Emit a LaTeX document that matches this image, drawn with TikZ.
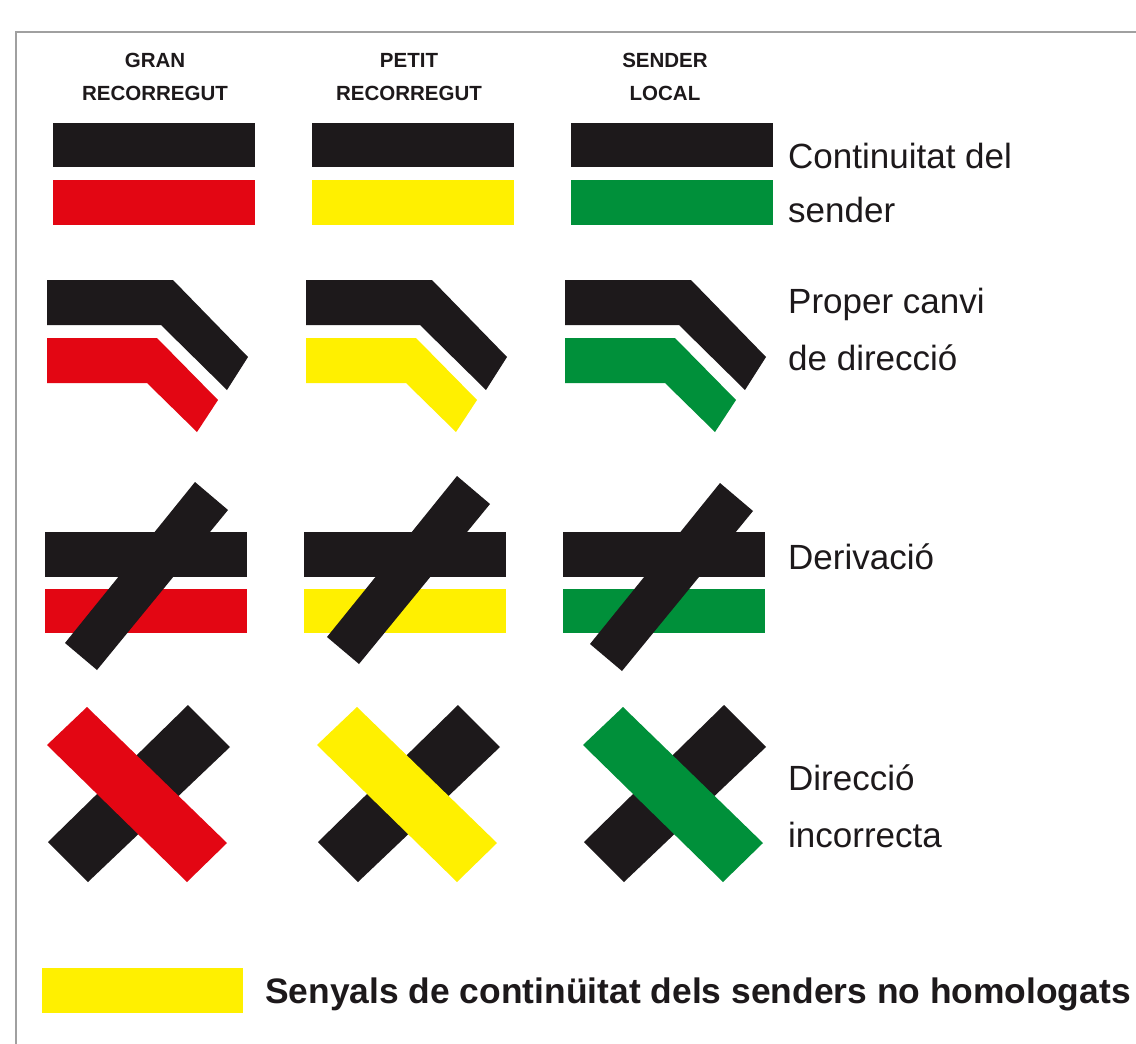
\documentclass[tikz,border=0pt]{standalone}
\usepackage{fontspec}
\setmainfont{Liberation Sans}
\usepackage{xcolor}
\usepackage{tikz}
\definecolor{sblack}{HTML}{1D191B}
\definecolor{sred}{HTML}{E30613}
\definecolor{syellow}{HTML}{FFF000}
\definecolor{sgreen}{HTML}{00903A}
\definecolor{frameline}{HTML}{A0A0A0}

\begin{document}
\begin{tikzpicture}[x=1pt,y=-1pt,
  hdr/.style={font=\fontsize{20.5}{24}\selectfont\bfseries,text=sblack,anchor=base,inner sep=0pt},
  lbl/.style={font=\fontsize{35}{42}\selectfont,text=sblack,anchor=base west,inner sep=0pt},
  leg/.style={font=\fontsize{35.4}{42}\selectfont\bfseries,text=sblack,anchor=base west,inner sep=0pt},
  frame/.style={draw=frameline,line width=2.5pt}]
  \useasboundingbox[fill=white] (0,0) rectangle (1136,1044);
  \draw[frame] (16,1044) -- (16,32) -- (1136,32);
  % column headers
  \node[hdr] (gran)      at (155,67)  {GRAN};
  \node[hdr] (granrec)   at (155,100) {RECORREGUT};
  \node[hdr] (petit)     at (409,67)  {PETIT};
  \node[hdr] (petitrec)  at (409,100) {RECORREGUT};
  \node[hdr] (sender)    at (665,67)  {SENDER};
  \node[hdr] (senderloc) at (665,100) {LOCAL};
  % the four signs, one column per colour
  \foreach \clr/\dx/\db/\dby/\dw in {sred/0/0/0/0, syellow/259/262/-6/270, sgreen/518/525/1/536}{
    \fill[sblack] (53+\dx,123) rectangle (255+\dx,167);
    \fill[\clr]   (53+\dx,180) rectangle (255+\dx,225);
    \begin{scope}[shift={(47+\dx,280)}]
      \fill[sblack] (0,0) -- (126,0) -- (201,77) -- (180,110) -- (114,45) -- (0,45) -- cycle;
      \fill[\clr]   (0,58) -- (110,58) -- (171,120) -- (150,152) -- (100,103) -- (0,103) -- cycle;
    \end{scope}
    \fill[sblack] (45+\dx,532) rectangle (247+\dx,577);
    \fill[\clr]   (45+\dx,589) rectangle (247+\dx,633);
    \fill[sblack,shift={(\db,\dby)}] (195,482) -- (228,510) -- (97,670) -- (65,643) -- cycle;
    \begin{scope}[shift={(\dw,0)}]
      \fill[sblack] (188,705) -- (230,747) -- (88,882) -- (48,842) -- cycle;
      \fill[\clr]   (87,707) -- (227,843) -- (187,882) -- (47,745) -- cycle;
    \end{scope}
  }
  % row labels
  \node[lbl] (cont1)  at (788,168) {Continuitat del};
  \node[lbl] (cont2)  at (788,222) {sender};
  \node[lbl] (canvi1) at (788,313) {Proper canvi};
  \node[lbl] (canvi2) at (788,370) {de direcció};
  \node[lbl] (deriv)  at (788,569) {Derivació};
  \node[lbl] (dir1)   at (788,790) {Direcció};
  \node[lbl] (dir2)   at (788,847) {incorrecta};
  % legend
  \fill[syellow] (42,968) rectangle (243,1013);
  \node[leg] (legtxt) at (265,1003) {Senyals de continüitat dels senders no homologats};
\end{tikzpicture}
\end{document}
